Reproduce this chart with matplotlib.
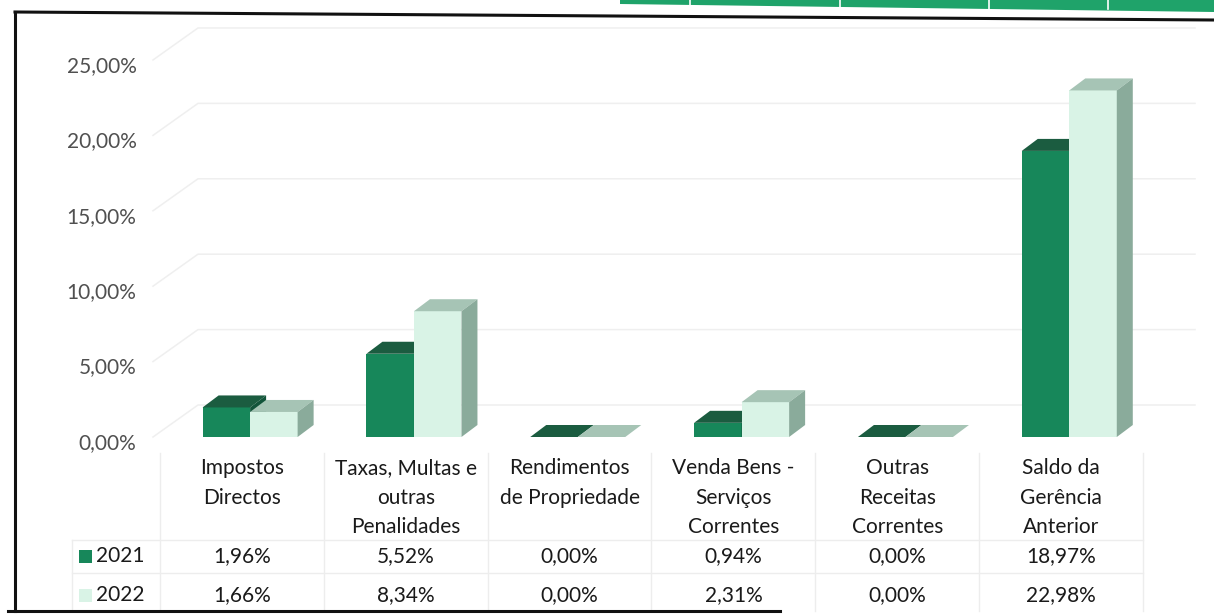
import numpy as np
import matplotlib
matplotlib.use("Agg")
import matplotlib.pyplot as plt
from matplotlib.patches import Polygon, Rectangle
from matplotlib.lines import Line2D
from matplotlib.transforms import blended_transform_factory, ScaledTranslation

plt.rcParams['font.family'] = ['Lato', 'DejaVu Sans']

# --- data ---
categories = ["Impostos\nDirectos", "Taxas, Multas e\noutras\nPenalidades",
              "Rendimentos\nde Propriedade", "Venda Bens -\nServiços\nCorrentes",
              "Outras\nReceitas\nCorrentes", "Saldo da\nGerência\nAnterior"]
series_names = ["2021", "2022"]
vals_2021 = [1.96, 5.52, 0.00, 0.94, 0.00, 18.97]
vals_2022 = [1.66, 8.34, 0.00, 2.31, 0.00, 22.98]
yticks = [0, 5, 10, 15, 20, 25]

# colours: front, top, side
col_2021 = ('#17875a', '#1b5c40', '#12543a')
col_2022 = ('#d9f3e6', '#a6c4b5', '#8aab9b')

W, H = 1214, 616
FS = 15
fig = plt.figure(figsize=(W / 100, H / 100), dpi=100)
fig.patch.set_facecolor('white')

def fx(px):
    return px / W

def fy(py):
    return 1 - py / H

# plot area: value 0 at y=437 px, columns from x=160 to 1143 px
ax = fig.add_axes([fx(160), fy(437), fx(1143) - fx(160), (437 - 20) / H])
ax.set_xlim(-0.5, 5.5)
ax.set_ylim(0, 27.65)
for s in ax.spines.values():
    s.set_visible(False)
ax.set_xticks([])
ax.set_yticks(yticks)
ax.set_yticklabels([f"{t:.2f}%".replace('.', ',') for t in yticks])
ax.tick_params(axis='y', length=0, pad=17, labelsize=FS, labelcolor='#505050')
down = ScaledTranslation(0, -4 / 100, fig.dpi_scale_trans)
for lbl in ax.get_yticklabels():
    lbl.set_transform(lbl.get_transform() + down)
ax.patch.set_alpha(0)

# pixel -> data unit conversions
px_x = (1143 - 160) / 6.0
px_y = (437 - 20) / 27.65

# back wall gridlines (perspective)
wall_dx, wall_dy = 45 / px_x, 32 / px_y
x_front = -0.5 - 7 / px_x
x_end = -0.5 + (1195 - 160) / px_x
for t in yticks:
    ax.plot([x_front, x_front + wall_dx, x_end], [t, t + wall_dy, t + wall_dy],
            color='#efefef', lw=1.1, clip_on=False, zorder=0)

# pseudo-3D bars
bw = 0.29
ddx, ddy = 16 / px_x, 12 / px_y
shift = 0.05

def bar3d(x0, v, cols):
    x1 = x0 + bw
    front, top, side = cols
    ax.add_patch(Rectangle((x0, 0), bw, v, facecolor=front, edgecolor='none', zorder=2))
    ax.add_patch(Polygon([(x0, v), (x1, v), (x1 + ddx, v + ddy), (x0 + ddx, v + ddy)],
                         closed=True, facecolor=top, edgecolor='none', zorder=2))
    ax.add_patch(Polygon([(x1, 0), (x1, v), (x1 + ddx, v + ddy), (x1 + ddx, ddy)],
                         closed=True, facecolor=side, edgecolor='none', zorder=2))

for i in range(len(categories)):
    c = i + shift
    bar3d(c - bw, vals_2021[i], col_2021)
    bar3d(c, vals_2022[i], col_2022)

# --- data table ---
tr = blended_transform_factory(ax.transData, fig.transFigure)
line_col = '#ededed'
for i, lab in enumerate(categories):
    fig.text(i, fy(458), lab, transform=tr, ha='center', va='top',
             multialignment='center', fontsize=FS, color='#1a1a1a', linespacing=1.6)
    fig.text(i, fy(556), f"{vals_2021[i]:.2f}%".replace('.', ','), transform=tr,
             ha='center', va='center', fontsize=FS, color='#1a1a1a')
    fig.text(i, fy(595), f"{vals_2022[i]:.2f}%".replace('.', ','), transform=tr,
             ha='center', va='center', fontsize=FS, color='#1a1a1a')

# table grid
for b in np.arange(-0.5, 6.0, 1.0):
    fig.add_artist(Line2D([b, b], [fy(453), fy(611)], transform=tr, color=line_col, lw=1))
fig.add_artist(Line2D([fx(72), fx(72)], [fy(540), fy(611)], color=line_col, lw=1))
for yy in (540, 573):
    fig.add_artist(Line2D([fx(72), fx(1143)], [fy(yy), fy(yy)], color=line_col, lw=1))

# legend keys in table
for name, cols, yy in zip(series_names, (col_2021, col_2022), (556, 595)):
    fig.add_artist(Rectangle((fx(79), fy(yy + 7)), 13 / W, 13 / H, facecolor=cols[0],
                             edgecolor='none', transform=fig.transFigure))
    fig.text(fx(96), fy(yy), name, ha='left', va='center', fontsize=FS, color='#1a1a1a')

# scanned page frame and green header strip
fig.add_artist(Polygon([(fx(620), fy(0)), (fx(1214), fy(0)), (fx(1214), fy(12)), (fx(620), fy(4))],
                       closed=True, facecolor='#1fa36a', edgecolor='none', transform=fig.transFigure))
for xx in (690, 840, 989, 1108):
    fig.add_artist(Line2D([fx(xx), fx(xx)], [fy(0), fy(9)], color='white', lw=1.2))
fig.add_artist(Line2D([fx(15), fx(1214)], [fy(12), fy(20)], color='#111111', lw=2.2))
fig.add_artist(Line2D([fx(15), fx(15)], [fy(12), fy(611)], color='#111111', lw=2.2))
fig.add_artist(Line2D([fx(8), fx(780)], [fy(611), fy(611)], color='#111111', lw=2.2))

fig.savefig('out.png', dpi=100)
